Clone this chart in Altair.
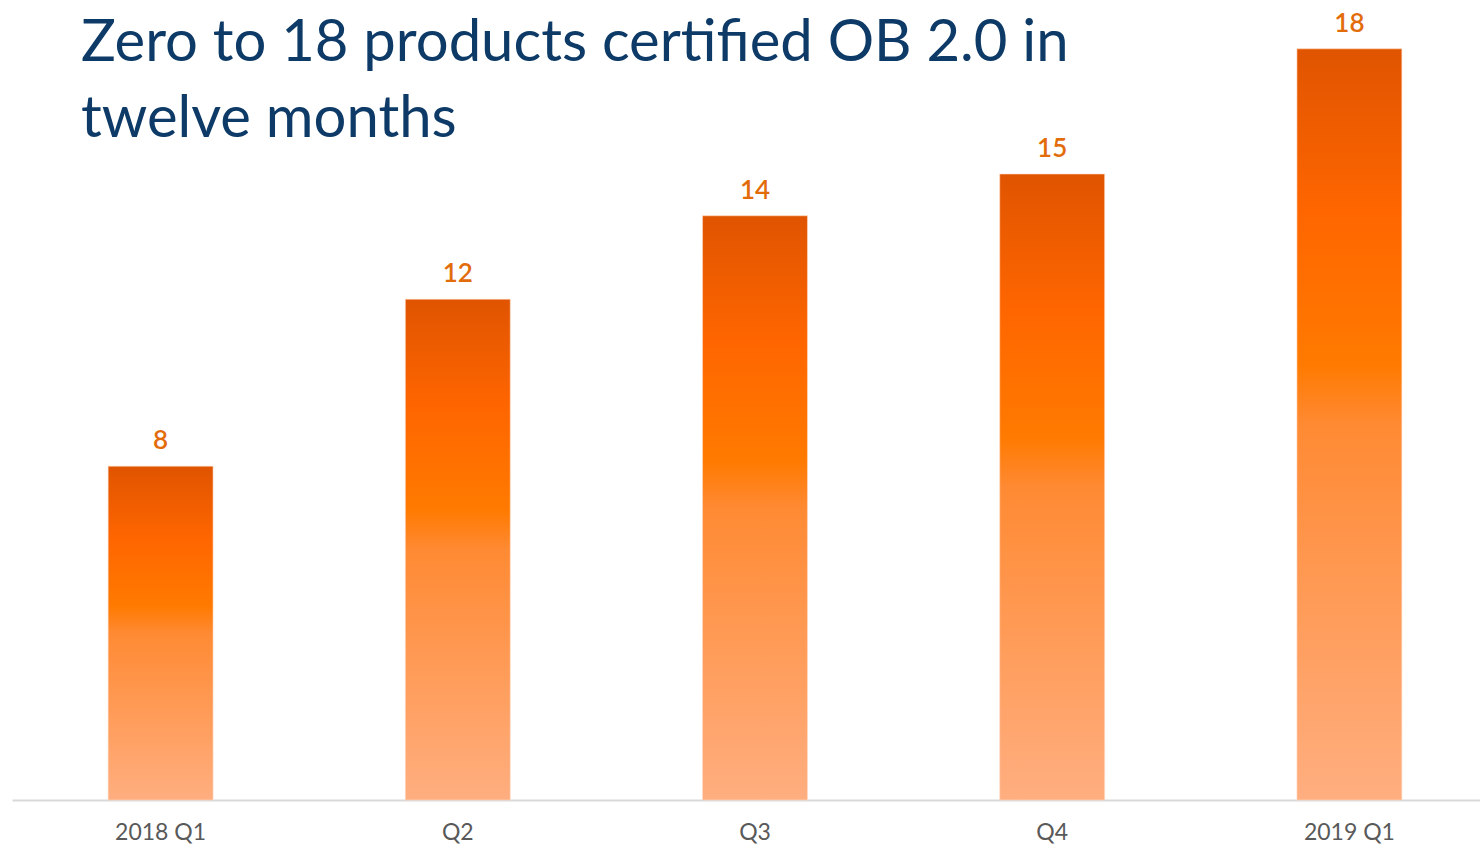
import altair as alt
import pandas as pd

quarters = ["2018 Q1", "Q2", "Q3", "Q4", "2019 Q1"]
products = [8, 12, 14, 15, 18]

df = pd.DataFrame({"quarter": quarters, "products": products})

gradient = alt.Gradient(
    gradient="linear",
    stops=[
        alt.GradientStop(color="#E05400", offset=0),
        alt.GradientStop(color="#FF6600", offset=0.22),
        alt.GradientStop(color="#FF7A00", offset=0.42),
        alt.GradientStop(color="#FF8A33", offset=0.5),
        alt.GradientStop(color="#FF9A55", offset=0.72),
        alt.GradientStop(color="#FFAE80", offset=1),
    ],
    x1=0, x2=0, y1=0, y2=1,
)

x = alt.X(
    "quarter:N",
    sort=quarters,
    scale=alt.Scale(paddingInner=0.647, paddingOuter=0.3235, range=[0, 1486]),
    axis=alt.Axis(
        title=None, labelAngle=0, labelFont="Lato", labelFontSize=23,
        labelColor="#595959", labelPadding=21, ticks=False,
        domainColor="#D9D9D9", domainWidth=2, grid=False,
    ),
)
y = alt.Y(
    "products:Q",
    scale=alt.Scale(domain=[0, 19.17], nice=False),
    axis=None,
)

base = alt.Chart(df).encode(x=x, y=y)

bars = base.mark_bar(color=gradient, stroke="#FFD9C2", strokeWidth=1, strokeOpacity=0.6)
labels = base.mark_text(
    font="Lato", fontSize=26, fontWeight=600, color="#E36C0A", baseline="alphabetic", dy=-17
).encode(text="products:Q")

chart = (
    (bars + labels)
    .properties(
        width=1468,
        height=800,
        autosize=alt.AutoSizeParams(type="none"),
        padding={"left": 12, "top": 0, "right": 0, "bottom": 47},
        title=alt.TitleParams(
            text=["Zero to 18 products certified OB 2.0 in", "twelve months"],
            anchor="start", frame="group", orient="top",
            font="Lato", fontSize=58, fontWeight="normal", color="#0D3A66",
            baseline="top", offset=0, dx=69, dy=149, lineHeight=76,
        ),
    )
    .configure_view(stroke=None)
)

chart.save("out.html", embed_options={"renderer": "svg", "actions": False})
